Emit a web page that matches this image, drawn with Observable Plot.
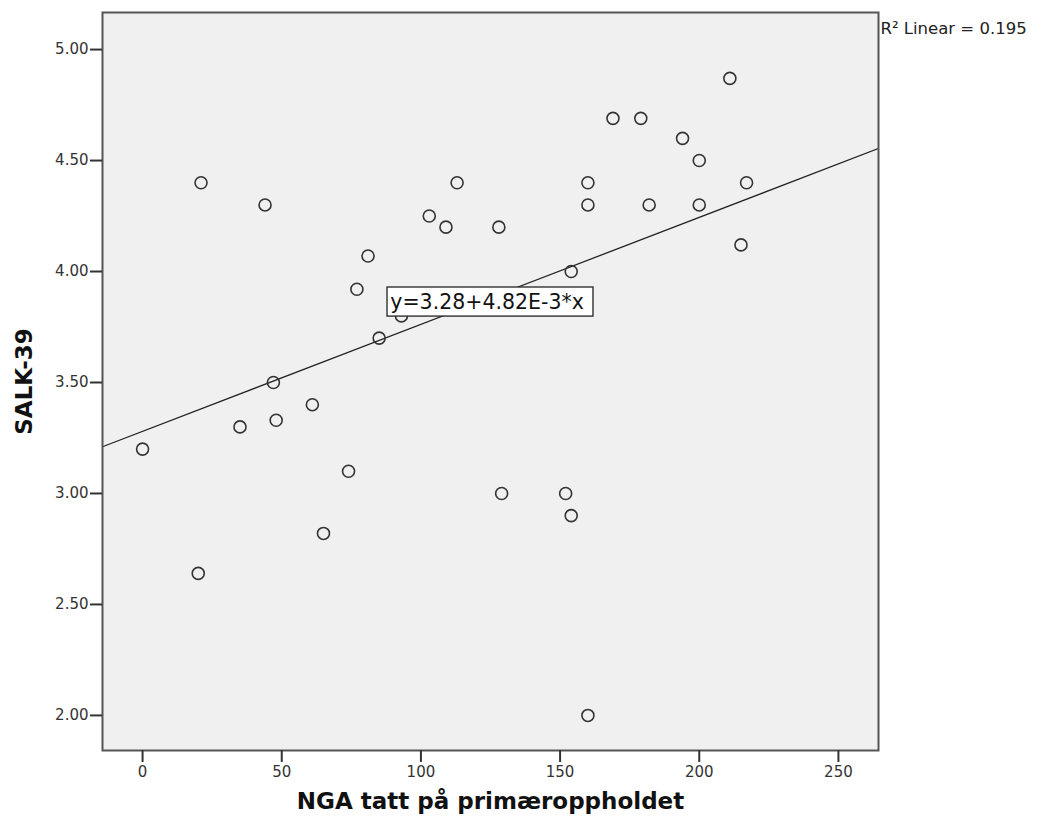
<!DOCTYPE html>
<html>
<head>
<meta charset="utf-8">
<script src="https://cdn.jsdelivr.net/npm/d3@7"></script>
<script src="https://cdn.jsdelivr.net/npm/@observablehq/plot@0.6"></script>
<style>
  html, body { margin: 0; padding: 0; background: #fff; }
  #chart svg { display: block; }
</style>
</head>
<body>
<div id="chart"></div>
<script>
// NGA tatt på primæroppholdet (x) and SALK-39 (y)
const nga  = [0, 21, 20, 35, 44, 47, 48, 61, 65, 74, 77, 81, 85, 93, 103, 109, 113, 128, 129, 152, 154, 154, 160, 160, 160, 169, 179, 182, 194, 200, 200, 211, 215, 217];
const salk = [3.20, 4.40, 2.64, 3.30, 4.30, 3.50, 3.33, 3.40, 2.82, 3.10, 3.92, 4.07, 3.70, 3.80, 4.25, 4.20, 4.40, 4.20, 3.00, 3.00, 2.90, 4.00, 4.40, 4.30, 2.00, 4.69, 4.69, 4.30, 4.60, 4.50, 4.30, 4.87, 4.12, 4.40];

const xTicks = [0, 50, 100, 150, 200, 250];
const yTicks = [2.0, 2.5, 3.0, 3.5, 4.0, 4.5, 5.0];

// Fit reported in the chart
const intercept = 3.28;
const slope = 4.82e-3;
const equationLabel = "y=3.28+4.82E-3*x";
const r2Label = "R² Linear = 0.195";
const xTitle = "NGA tatt på primæroppholdet";
const yTitle = "SALK-39";

const xDomain = [-14.4, 264.4];
const yDomain = [1.842, 5.167];

const points = nga.map((x, i) => ({x, y: salk[i]}));
const fitLine = xDomain.map(x => ({x, y: intercept + slope * x}));

const font = "'DejaVu Sans', sans-serif";

const chart = Plot.plot({
  width: 1043,
  height: 827,
  marginLeft: 102,
  marginRight: 165,
  marginTop: 12,
  marginBottom: 77,
  style: {fontFamily: font, background: "#ffffff"},
  x: {domain: xDomain},
  y: {domain: yDomain},
  marks: [
    Plot.frame({fill: "#f0f0f0"}),
    Plot.line(fitLine, {x: "x", y: "y", stroke: "#222", strokeWidth: 1.3, clip: true}),
    Plot.dot(points, {x: "x", y: "y", r: 6, stroke: "#333", strokeWidth: 1.6, fill: "none"}),
    Plot.rect([{x1: 88.0, x2: 162.0, y1: 3.797, y2: 3.928}], {x1: "x1", x2: "x2", y1: "y1", y2: "y2", fill: "#ffffff", stroke: "#222", strokeWidth: 1.3}),
    Plot.text([equationLabel], {x: 89.0, y: 3.8625, text: d => d, textAnchor: "start", lineAnchor: "middle", fontSize: 20.5, fill: "#111"}),
    Plot.frame({stroke: "#555", strokeWidth: 2}),
    Plot.axisX({ticks: xTicks, tickSize: 12, tickPadding: 4, tickFormat: d => String(d), fontSize: 15, label: null, stroke: "#333", strokeWidth: 2, color: "#333"}),
    Plot.axisY({ticks: yTicks, tickSize: 12, tickPadding: 2, tickFormat: d3.format(".2f"), fontSize: 15, label: null, stroke: "#333", strokeWidth: 2, color: "#333"}),
    Plot.text([r2Label], {frameAnchor: "top-right", dx: 2, dy: 16, textAnchor: "start", lineAnchor: "middle", text: d => d, fontSize: 16.5, fill: "#222"}),
    Plot.text([xTitle], {frameAnchor: "bottom", dy: 51, textAnchor: "middle", lineAnchor: "middle", text: d => d, fontSize: 23, fontWeight: "bold", fill: "#111"}),
    Plot.text([yTitle], {frameAnchor: "left", dx: -78, rotate: -90, textAnchor: "middle", lineAnchor: "middle", text: d => d, fontSize: 23, fontWeight: "bold", fill: "#111"})
  ]
});

document.getElementById("chart").appendChild(chart);
</script>
</body>
</html>
